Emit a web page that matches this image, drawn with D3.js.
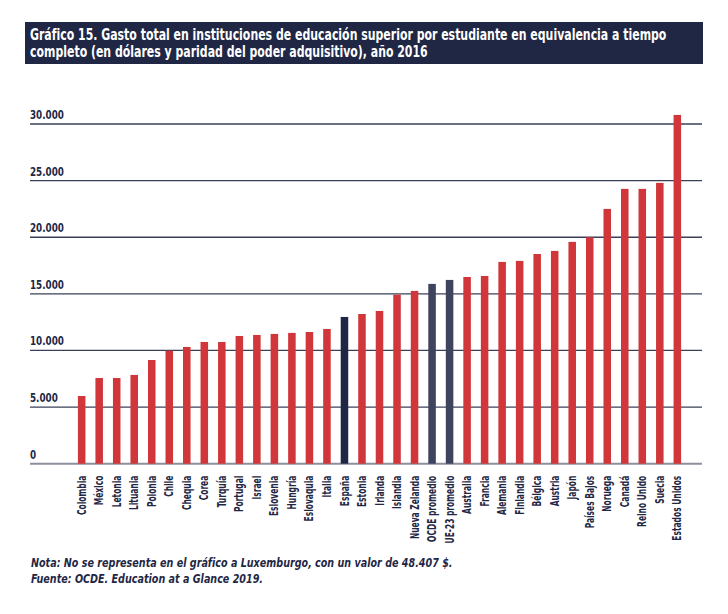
<!DOCTYPE html>
<html lang="es">
<head>
<meta charset="UTF-8">
<title>Gráfico 15</title>
<style>
    body { margin: 0; background: #fff; }
    svg { display: block; }
    text { font-family: "Liberation Sans Narrow", "Arial Narrow", "DejaVu Sans Condensed", sans-serif; font-weight: bold; }
</style>
</head>
<body>
<svg width="728" height="614"></svg>
<script src="https://d3js.org/d3.v7.min.js"></script>
<script>
    // datos
    const paises = ["Colombia", "México", "Letonia", "Lituania", "Polonia", "Chile", "Chequia", "Corea",
        "Turquía", "Portugal", "Israel", "Eslovenia", "Hungría", "Eslovaquia", "Italia", "España",
        "Estonia", "Irlanda", "Islandia", "Nueva Zelanda", "OCDE promedio", "UE-23 promedio",
        "Australia", "Francia", "Alemania", "Finlandia", "Bélgica", "Austria", "Japón",
        "Países Bajos", "Noruega", "Canadá", "Reino Unido", "Suecia", "Estados Unidos"];
    const gasto = [5980, 7570, 7570, 7840, 9160, 9980, 10310, 10750, 10750, 11280, 11370, 11460,
        11550, 11630, 11900, 12960, 13220, 13490, 14930, 15260, 15880, 16230, 16490, 16580,
        17820, 17910, 18520, 18790, 19590, 20000, 22500, 24270, 24270, 24800, 30800];
    const ticks = [0, 5000, 10000, 15000, 20000, 25000, 30000];
    const tipo = { "España": "espana", "OCDE promedio": "media", "UE-23 promedio": "media" };

    const navy = "#1f2744";
    const colores = { pais: "#d1373a", espana: "#1f2744", media: "#3e435e" };

    const svg = d3.select("svg");

    // comprime horizontalmente un grupo de textos para que el primero mida "ancho"
    function estrechar(sel, ancho, giro) {
        const k = ancho / sel.node().getComputedTextLength();
        sel.each(function () {
            const t = d3.select(this);
            const x0 = +t.attr("x"), y0 = +t.attr("y");
            if (giro) {
                t.attr("transform", `rotate(-90) scale(${k},1)`);
            } else {
                t.attr("transform", `translate(${x0},${y0}) scale(${k},1) translate(${-x0},${-y0})`);
            }
        });
    }

    // cabecera
    svg.append("rect")
        .attr("x", 25).attr("y", 22)
        .attr("width", 678).attr("height", 42)
        .attr("fill", navy);

    const titulo = [
        "Gráfico 15. Gasto total en instituciones de educación superior por estudiante en equivalencia a tiempo",
        "completo (en dólares y paridad del poder adquisitivo), año 2016"
    ];
    const tit = svg.append("g").selectAll("text")
        .data(titulo)
        .join("text")
        .attr("x", 30)
        .attr("y", (d, i) => 40.5 + i * 16.5)
        .attr("fill", "#fff")
        .attr("font-size", 15.5)
        .text(d => d);
    estrechar(tit, 637);

    const x = d3.scaleBand()
        .domain(paises)
        .range([73, 686])
        .paddingInner(0.57)
        .paddingOuter(0.28);

    const y = d3.scaleLinear()
        .domain([0, 30000])
        .range([463.7, 124]);

    const fmt = d => d === 0 ? "0" : d3.format(",")(d).replace(/,/g, ".");

    // rejilla
    const grid = svg.append("g");
    grid.selectAll("line")
        .data(ticks)
        .join("line")
        .attr("x1", 30).attr("x2", 702)
        .attr("y1", d => y(d)).attr("y2", d => y(d))
        .attr("stroke", d => d === 0 ? "#8d909c" : "#3a4058")
        .attr("stroke-width", d => d === 0 ? 2 : 1.3);

    const etiquetasY = grid.selectAll("text")
        .data(ticks.slice().reverse())
        .join("text")
        .attr("x", 30)
        .attr("y", d => y(d) - 5)
        .attr("fill", navy)
        .attr("font-size", 13)
        .text(fmt);
    estrechar(etiquetasY, 34);

    // barras
    svg.append("g").selectAll("rect")
        .data(paises)
        .join("rect")
        .attr("x", d => x(d))
        .attr("width", x.bandwidth())
        .attr("y", (d, i) => y(gasto[i]))
        .attr("height", (d, i) => y(0) - y(gasto[i]))
        .attr("fill", d => colores[tipo[d] || "pais"]);

    // etiquetas eje x
    const xAxis = svg.append("g")
        .attr("transform", `translate(0,${y(0) + 12})`)
        .call(d3.axisBottom(x).tickSize(0).tickPadding(0));
    xAxis.select(".domain").remove();
    const etiquetasX = xAxis.selectAll("text")
        .attr("font-family", null)
        .attr("font-size", 11.5)
        .attr("fill", navy)
        .attr("text-anchor", "end")
        .attr("x", 0)
        .attr("y", 0)
        .attr("dy", "0.35em");
    const ultima = etiquetasX.filter(d => d === "Estados Unidos");
    const kx = 65 / ultima.node().getComputedTextLength();
    etiquetasX.attr("transform", `rotate(-90) scale(${kx},1)`);

    // notas
    const notas = [
        "Nota: No se representa en el gráfico a Luxemburgo, con un valor de 48.407 $.",
        "Fuente: OCDE. Education at a Glance 2019."
    ];
    const pie = svg.append("g").selectAll("text")
        .data(notas)
        .join("text")
        .attr("x", 31)
        .attr("y", (d, i) => 567 + i * 16.5)
        .attr("fill", navy)
        .attr("font-size", 13)
        .attr("font-style", "italic")
        .text(d => d);
    estrechar(pie, 422);
</script>
</body>
</html>
